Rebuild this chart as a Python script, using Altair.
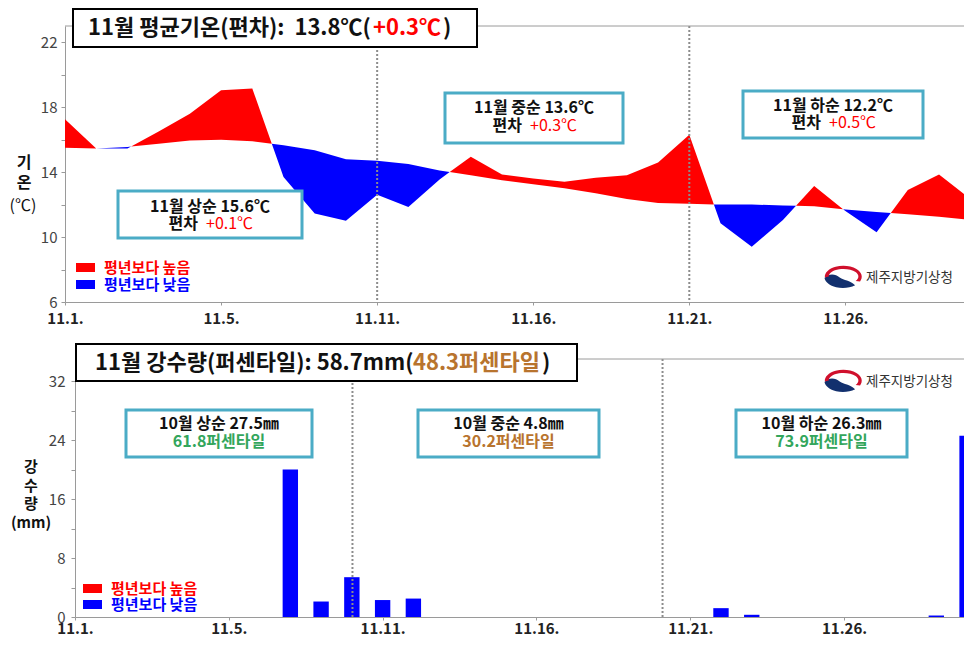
import altair as alt
import numpy as np
import pandas as pd

# ---------------- data ----------------
days = list(range(1, 31))
temp_obs = [17.25, 15.45, 15.45, 16.5, 17.6, 19.05, 19.15, 13.7, 11.45, 11.0,
            12.6, 11.85, 13.55, 14.95, 13.85, 13.6, 13.4, 13.65, 13.8, 14.6,
            16.3, 10.85, 9.4, 11.05, 13.15, 11.6, 10.3, 12.9, 13.85, 12.65]
temp_norm = [15.5, 15.45, 15.55, 15.75, 15.95, 16.0, 15.9, 15.65, 15.35, 14.8,
             14.7, 14.5, 14.1, 13.8, 13.5, 13.25, 13.0, 12.7, 12.35, 12.1,
             12.05, 12.0, 12.0, 11.95, 11.9, 11.7, 11.55, 11.4, 11.25, 11.1]
rain_mm = [0, 0, 0, 0, 0, 0, 0, 20.0, 2.1, 5.4,
           2.3, 2.5, 0, 0, 0, 0, 0, 0, 0, 0,
           0, 1.2, 0.3, 0, 0, 0, 0, 0, 0.2, 24.6]
tick_days = [1, 6, 11, 16, 21, 26]
tick_labels = ["11.1.", "11.5.", "11.11.", "11.16.", "11.21.", "11.26."]
temp_ticks = [6, 8, 10, 12, 14, 16, 18, 20, 22]
rain_ticks = [0, 4, 8, 12, 16, 20, 24, 28, 32]
temp_dividers = [11, 21]
rain_dividers = [10.02, 20.1]

temp_title = ["11월 평균기온(편차): \u00a013.8℃(", "+0.3℃", ")"]
rain_title = ["11월 강수량(퍼센타일): 58.7mm(", "48.3퍼센타일", ")"]
temp_box_l1 = ["11월 상순 15.6℃", "11월 중순 13.6℃", "11월 하순 12.2℃"]
temp_box_l2 = ["+0.1℃", "+0.3℃", "+0.5℃"]
rain_box_l1 = ["10월 상순 27.5㎜", "10월 중순 4.8㎜", "10월 하순 26.3㎜"]
rain_box_l2 = ["61.8퍼센타일", "30.2퍼센타일", "73.9퍼센타일"]
legend_labels = ["평년보다 높음", "평년보다 낮음"]
agency = "제주지방기상청"

# ---------------- style / layout ----------------
KF = "Noto Sans CJK KR"
RED, BLUE = "#FF0000", "#0000FF"
TEAL, GREEN, BROWN = "#4BACC6", "#33A65C", "#B8742E"
AX = "#9a9a9a"
NAVY = "#12306e"

# one view covering the page (page origin 8,8); positions below are page px
VW, VH = 956, 628
O = 8
T_L, T_T, T_R, T_B = 65, 26, 964, 302      # temperature plot box
R_L, R_T, R_R, R_B = 75, 359, 964, 617     # precipitation plot box

one = pd.DataFrame({"k": [0]})


def rect(x0, y0, x1, y1, **kw):
    return alt.Chart(one).mark_rect(**kw).encode(
        x=alt.value(x0 - O), x2=alt.value(x1 - O),
        y=alt.value(y0 - O), y2=alt.value(y1 - O))


def hline(x0, x1, y, **kw):
    return alt.Chart(one).mark_rule(**kw).encode(
        x=alt.value(x0 - O), x2=alt.value(x1 - O), y=alt.value(y - O))


def text(s, x, y, **kw):
    st = dict(font=KF, fontSize=16, fontWeight="bold", baseline="middle",
              align="left", color="#111111")
    st.update(kw)
    return alt.Chart(one).mark_text(text=s, **st).encode(
        x=alt.value(x - O), y=alt.value(y - O))


RED_PATH = ("M -1.65 0.05 A 1.68 1 0 1 1 1.55 0.4 L 1.15 0.37 "
            "A 1.35 0.7 0 1 0 -1.3 -0.05 Z")
NAVY_PATH = ("M -1.68 0.1 A 1.68 1 0 0 0 1.1 0.75 C 0.6 0.25 0.1 0.35 -0.3 0.05 "
             "C -0.7 -0.3 -1.3 -0.35 -1.68 0.1 Z")


def emblem(cx, cy):
    out = []
    for path, col in ((NAVY_PATH, NAVY), (RED_PATH, "#d0102c")):
        out.append(alt.Chart(one).mark_point(shape=path, size=484, filled=True,
                                             color=col, opacity=1, strokeWidth=0)
                   .encode(x=alt.value(cx - O), y=alt.value(cy - O)))
    out.append(text(agency, cx + 23, cy + 1, fontSize=13.5,
                    fontWeight="normal", color="#333333"))
    return out


def label_expr(vals, labels):
    return " : ".join(f"datum.value == {v} ? '{l}'" for v, l in zip(vals, labels)) + " : ''"


def x_axis(y_axis_line, pad):
    return alt.Axis(orient="bottom", offset=(y_axis_line - O) - VH,
                    values=tick_days, labelExpr=label_expr(tick_days, tick_labels),
                    title=None, grid=False, domainColor=AX, tickColor=AX, tickSize=3,
                    labelFont=KF, labelFontSize=15, labelFontWeight="bold",
                    labelColor="#222222", labelPadding=pad, labelFlush=False)


def y_axis(x_axis_line, vals, expr, pad):
    return alt.Axis(orient="left", offset=-(x_axis_line - O),
                    values=vals, labelExpr=expr, title=None, grid=False,
                    domainColor=AX, tickColor=AX, tickSize=4, labelPadding=pad,
                    labelFont=KF, labelFontSize=15, labelColor="#444444")


# ---------------- temperature panel ----------------
def build_fill(d, obs, norm):
    rows = []
    for i in range(len(d)):
        rows.append((d[i], obs[i], norm[i]))
        if i < len(d) - 1:
            a, b = obs[i] - norm[i], obs[i + 1] - norm[i + 1]
            if a * b < 0:
                t = a / (a - b)
                nc = norm[i] + t * (norm[i + 1] - norm[i])
                rows.append((d[i] + t * (d[i + 1] - d[i]), nc, nc))
    df = pd.DataFrame(rows, columns=["day", "obs", "norm"])
    df["hi"] = np.maximum(df["obs"], df["norm"])
    df["lo"] = np.minimum(df["obs"], df["norm"])
    return df


fill_df = build_fill(days, temp_obs, temp_norm)


def xs_t():
    return alt.Scale(domain=[1, 29.8], range=[T_L - O, T_R - O], nice=False,
                     zero=False, clamp=True)


def ys_t():
    return alt.Scale(domain=[6, 23], range=[T_B - O, T_T - O], nice=False, zero=False)


def xs_r():
    return alt.Scale(domain=[1, 29.9], range=[R_L - O, R_R - O], nice=False,
                     zero=False, clamp=True)


def ys_r():
    return alt.Scale(domain=[0, 35], range=[R_B - O, R_T - O], nice=False, zero=False)


layers = [
    alt.Chart(fill_df).mark_area(color=RED).encode(
        x=alt.X("day:Q", scale=xs_t(), axis=x_axis(T_B, 6)),
        y=alt.Y("hi:Q", scale=ys_t(),
                axis=y_axis(T_L, temp_ticks, "datum.value % 4 == 2 ? datum.label : ''", 4)),
        y2="norm:Q"),
    alt.Chart(fill_df).mark_area(color=BLUE).encode(
        x=alt.X("day:Q", scale=xs_t(), axis=None),
        y=alt.Y("lo:Q", scale=ys_t(), axis=None), y2="norm:Q"),
    alt.Chart(pd.DataFrame({"day": temp_dividers})).mark_rule(
        color="#8c8c8c", strokeDash=[2, 2], strokeWidth=2).encode(
        x=alt.X("day:Q", scale=xs_t(), axis=None),
        y=alt.value(T_T - O), y2=alt.value(T_B - O)),
    hline(T_L, T_R, T_T, color=AX),
]
t_boxes = [(118, 191, 302, 238, 206.5, 224),
           (445, 93, 623, 143, 107.5, 125.5),
           (743, 91, 923, 138, 105.5, 123)]
for (x0, y0, x1, y1, yl1, yl2), l1, l2 in zip(t_boxes, temp_box_l1, temp_box_l2):
    cx = (x0 + x1) / 2
    layers += [
        rect(x0, y0, x1, y1, fill="white", stroke=TEAL, strokeWidth=3),
        text(l1, cx, yl1, align="center"),
        text("편차", cx - 12, yl2, align="right"),
        text(l2, cx - 4, yl2, color=RED, fontWeight="normal"),
    ]
layers += [
    rect(76, 263, 95, 272, color=RED),
    rect(76, 280, 95, 289, color=BLUE),
    text(legend_labels[0], 104, 268, color=RED, fontSize=15),
    text(legend_labels[1], 104, 285, color=BLUE, fontSize=15),
]
layers += emblem(843, 277)
layers += [
    rect(73, 9, 477, 47, fill="white", stroke="black", strokeWidth=2),
    text(temp_title[0], 88, 28, fontSize=22),
    text(temp_title[1], 373, 28, fontSize=22, color=RED),
    text(temp_title[2], 443, 28, fontSize=22),
    text(["기", "온"], 24, 163, align="center", fontSize=16, lineHeight=20),
    text("(℃)", 23, 206, align="center", fontSize=16, fontWeight="normal"),
]

# ---------------- precipitation panel ----------------
rain_df = pd.DataFrame({"day": days, "mm": rain_mm})
layers += [
    alt.Chart(rain_df).transform_filter("datum.mm > 0").transform_calculate(
        d0="datum.day - 0.25", d1="datum.day + 0.25", base="0").mark_bar(
        color=BLUE).encode(
        x=alt.X("d0:Q", scale=xs_r(), axis=x_axis(R_B, 1)),
        x2="d1:Q",
        y=alt.Y("mm:Q", scale=ys_r(),
                axis=y_axis(R_L, rain_ticks, "datum.value % 8 == 0 ? datum.label : ''", 6)),
        y2="base:Q"),
    alt.Chart(pd.DataFrame({"day": rain_dividers})).mark_rule(
        color="#8c8c8c", strokeDash=[2, 2], strokeWidth=2).encode(
        x=alt.X("day:Q", scale=xs_r(), axis=None),
        y=alt.value(R_T - O), y2=alt.value(R_B - O)),
    hline(R_L, R_R, R_T, color=AX),
]
r_boxes = [(126, 410, 312, 457), (418, 410, 599, 457), (736, 410, 907, 457)]
r_cols = [GREEN, BROWN, GREEN]
for (x0, y0, x1, y1), l1, l2, c in zip(r_boxes, rain_box_l1, rain_box_l2, r_cols):
    cx = (x0 + x1) / 2
    layers += [
        rect(x0, y0, x1, y1, fill="white", stroke=TEAL, strokeWidth=3),
        text(l1, cx, 423.5, align="center"),
        text(l2, cx, 441.5, align="center", color=c),
    ]
layers += [
    rect(83, 584, 102, 593, color=RED),
    rect(83, 600, 102, 609, color=BLUE),
    text(legend_labels[0], 111, 588.5, color=RED, fontSize=15),
    text(legend_labels[1], 111, 604.5, color=BLUE, fontSize=15),
]
layers += emblem(843, 381)
layers += [
    rect(76, 344, 577, 381, fill="white", stroke="black", strokeWidth=2),
    text(rain_title[0], 95, 363, fontSize=22),
    text(rain_title[1], 413, 363, fontSize=22, color=BROWN),
    text(rain_title[2], 542, 363, fontSize=22),
    text(["강", "수", "량", "(mm)"], 31, 469, align="center", baseline="top",
         fontSize=15, lineHeight=18.5, dy=-9),
]

chart = alt.layer(*layers).resolve_scale(
    x="independent", y="independent").resolve_axis(
    x="independent", y="independent").properties(
    width=VW, height=VH, padding=0,
    autosize=alt.AutoSizeParams(type="none")).configure_view(stroke=None)

chart.save("out.html", embed_options={"renderer": "svg", "actions": False})
